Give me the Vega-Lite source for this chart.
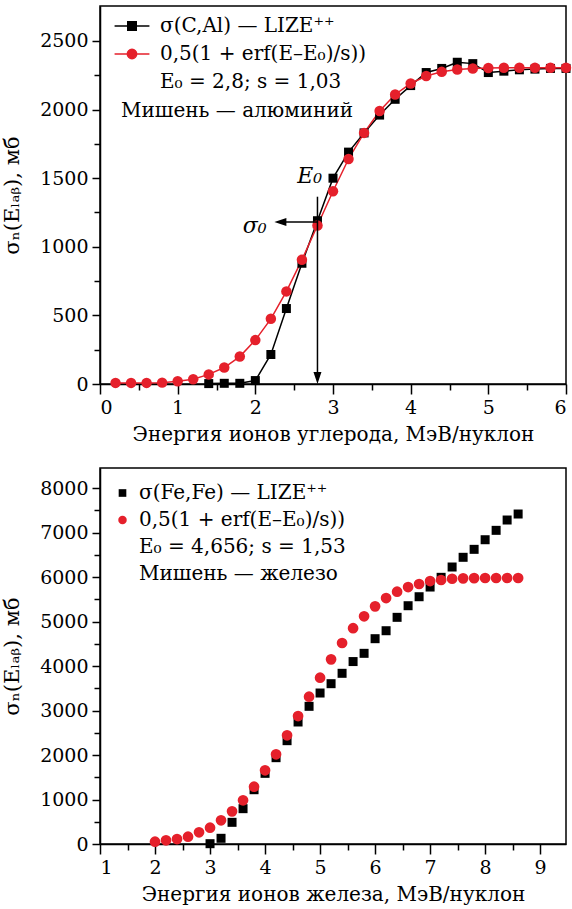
{
  "$schema": "https://vega.github.io/schema/vega-lite/v6.json",
  "padding": {"left": 0, "top": 5, "right": 5, "bottom": 5},
  "background": "white",
  "spacing": 22,
  "datasets": {
    "al": [
      {"E": 1.4, "sigma": 3, "series": "σ(C,Al) — LIZE⁺⁺"},
      {"E": 1.6, "sigma": 5, "series": "σ(C,Al) — LIZE⁺⁺"},
      {"E": 1.8, "sigma": 5, "series": "σ(C,Al) — LIZE⁺⁺"},
      {"E": 2.0, "sigma": 25, "series": "σ(C,Al) — LIZE⁺⁺"},
      {"E": 2.2, "sigma": 215, "series": "σ(C,Al) — LIZE⁺⁺"},
      {"E": 2.4, "sigma": 550, "series": "σ(C,Al) — LIZE⁺⁺"},
      {"E": 2.6, "sigma": 880, "series": "σ(C,Al) — LIZE⁺⁺"},
      {"E": 2.8, "sigma": 1190, "series": "σ(C,Al) — LIZE⁺⁺"},
      {"E": 3.0, "sigma": 1500, "series": "σ(C,Al) — LIZE⁺⁺"},
      {"E": 3.2, "sigma": 1690, "series": "σ(C,Al) — LIZE⁺⁺"},
      {"E": 3.4, "sigma": 1830, "series": "σ(C,Al) — LIZE⁺⁺"},
      {"E": 3.6, "sigma": 1960, "series": "σ(C,Al) — LIZE⁺⁺"},
      {"E": 3.8, "sigma": 2075, "series": "σ(C,Al) — LIZE⁺⁺"},
      {"E": 4.0, "sigma": 2175, "series": "σ(C,Al) — LIZE⁺⁺"},
      {"E": 4.2, "sigma": 2270, "series": "σ(C,Al) — LIZE⁺⁺"},
      {"E": 4.4, "sigma": 2300, "series": "σ(C,Al) — LIZE⁺⁺"},
      {"E": 4.6, "sigma": 2345, "series": "σ(C,Al) — LIZE⁺⁺"},
      {"E": 4.8, "sigma": 2335, "series": "σ(C,Al) — LIZE⁺⁺"},
      {"E": 5.0, "sigma": 2270, "series": "σ(C,Al) — LIZE⁺⁺"},
      {"E": 5.2, "sigma": 2280, "series": "σ(C,Al) — LIZE⁺⁺"},
      {"E": 5.4, "sigma": 2290, "series": "σ(C,Al) — LIZE⁺⁺"},
      {"E": 5.6, "sigma": 2295, "series": "σ(C,Al) — LIZE⁺⁺"},
      {"E": 5.8, "sigma": 2300, "series": "σ(C,Al) — LIZE⁺⁺"},
      {"E": 6.0, "sigma": 2300, "series": "σ(C,Al) — LIZE⁺⁺"},
      {"E": 0.2, "sigma": 8, "series": "0,5(1 + erf(E–E₀)/s))"},
      {"E": 0.4, "sigma": 8, "series": "0,5(1 + erf(E–E₀)/s))"},
      {"E": 0.6, "sigma": 8, "series": "0,5(1 + erf(E–E₀)/s))"},
      {"E": 0.8, "sigma": 10, "series": "0,5(1 + erf(E–E₀)/s))"},
      {"E": 1.0, "sigma": 20, "series": "0,5(1 + erf(E–E₀)/s))"},
      {"E": 1.2, "sigma": 35, "series": "0,5(1 + erf(E–E₀)/s))"},
      {"E": 1.4, "sigma": 70, "series": "0,5(1 + erf(E–E₀)/s))"},
      {"E": 1.6, "sigma": 120, "series": "0,5(1 + erf(E–E₀)/s))"},
      {"E": 1.8, "sigma": 200, "series": "0,5(1 + erf(E–E₀)/s))"},
      {"E": 2.0, "sigma": 320, "series": "0,5(1 + erf(E–E₀)/s))"},
      {"E": 2.2, "sigma": 475, "series": "0,5(1 + erf(E–E₀)/s))"},
      {"E": 2.4, "sigma": 675, "series": "0,5(1 + erf(E–E₀)/s))"},
      {"E": 2.6, "sigma": 905, "series": "0,5(1 + erf(E–E₀)/s))"},
      {"E": 2.8, "sigma": 1155, "series": "0,5(1 + erf(E–E₀)/s))"},
      {"E": 3.0, "sigma": 1405, "series": "0,5(1 + erf(E–E₀)/s))"},
      {"E": 3.2, "sigma": 1640, "series": "0,5(1 + erf(E–E₀)/s))"},
      {"E": 3.4, "sigma": 1830, "series": "0,5(1 + erf(E–E₀)/s))"},
      {"E": 3.6, "sigma": 1990, "series": "0,5(1 + erf(E–E₀)/s))"},
      {"E": 3.8, "sigma": 2110, "series": "0,5(1 + erf(E–E₀)/s))"},
      {"E": 4.0, "sigma": 2190, "series": "0,5(1 + erf(E–E₀)/s))"},
      {"E": 4.2, "sigma": 2245, "series": "0,5(1 + erf(E–E₀)/s))"},
      {"E": 4.4, "sigma": 2275, "series": "0,5(1 + erf(E–E₀)/s))"},
      {"E": 4.6, "sigma": 2292, "series": "0,5(1 + erf(E–E₀)/s))"},
      {"E": 4.8, "sigma": 2300, "series": "0,5(1 + erf(E–E₀)/s))"},
      {"E": 5.0, "sigma": 2303, "series": "0,5(1 + erf(E–E₀)/s))"},
      {"E": 5.2, "sigma": 2305, "series": "0,5(1 + erf(E–E₀)/s))"},
      {"E": 5.4, "sigma": 2305, "series": "0,5(1 + erf(E–E₀)/s))"},
      {"E": 5.6, "sigma": 2305, "series": "0,5(1 + erf(E–E₀)/s))"},
      {"E": 5.8, "sigma": 2305, "series": "0,5(1 + erf(E–E₀)/s))"},
      {"E": 6.0, "sigma": 2305, "series": "0,5(1 + erf(E–E₀)/s))"}
    ],
    "fe": [
      {"E": 3.0, "sigma": 7, "series": "σ(Fe,Fe) — LIZE⁺⁺"},
      {"E": 3.2, "sigma": 128, "series": "σ(Fe,Fe) — LIZE⁺⁺"},
      {"E": 3.4, "sigma": 487, "series": "σ(Fe,Fe) — LIZE⁺⁺"},
      {"E": 3.6, "sigma": 794, "series": "σ(Fe,Fe) — LIZE⁺⁺"},
      {"E": 3.8, "sigma": 1220, "series": "σ(Fe,Fe) — LIZE⁺⁺"},
      {"E": 4.0, "sigma": 1588, "series": "σ(Fe,Fe) — LIZE⁺⁺"},
      {"E": 4.2, "sigma": 1940, "series": "σ(Fe,Fe) — LIZE⁺⁺"},
      {"E": 4.4, "sigma": 2322, "series": "σ(Fe,Fe) — LIZE⁺⁺"},
      {"E": 4.6, "sigma": 2742, "series": "σ(Fe,Fe) — LIZE⁺⁺"},
      {"E": 4.8, "sigma": 3094, "series": "σ(Fe,Fe) — LIZE⁺⁺"},
      {"E": 5.0, "sigma": 3393, "series": "σ(Fe,Fe) — LIZE⁺⁺"},
      {"E": 5.2, "sigma": 3603, "series": "σ(Fe,Fe) — LIZE⁺⁺"},
      {"E": 5.4, "sigma": 3836, "series": "σ(Fe,Fe) — LIZE⁺⁺"},
      {"E": 5.6, "sigma": 4100, "series": "σ(Fe,Fe) — LIZE⁺⁺"},
      {"E": 5.8, "sigma": 4285, "series": "σ(Fe,Fe) — LIZE⁺⁺"},
      {"E": 6.0, "sigma": 4614, "series": "σ(Fe,Fe) — LIZE⁺⁺"},
      {"E": 6.2, "sigma": 4793, "series": "σ(Fe,Fe) — LIZE⁺⁺"},
      {"E": 6.4, "sigma": 5094, "series": "σ(Fe,Fe) — LIZE⁺⁺"},
      {"E": 6.6, "sigma": 5355, "series": "σ(Fe,Fe) — LIZE⁺⁺"},
      {"E": 6.8, "sigma": 5557, "series": "σ(Fe,Fe) — LIZE⁺⁺"},
      {"E": 7.0, "sigma": 5775, "series": "σ(Fe,Fe) — LIZE⁺⁺"},
      {"E": 7.2, "sigma": 5993, "series": "σ(Fe,Fe) — LIZE⁺⁺"},
      {"E": 7.4, "sigma": 6225, "series": "σ(Fe,Fe) — LIZE⁺⁺"},
      {"E": 7.6, "sigma": 6443, "series": "σ(Fe,Fe) — LIZE⁺⁺"},
      {"E": 7.8, "sigma": 6622, "series": "σ(Fe,Fe) — LIZE⁺⁺"},
      {"E": 8.0, "sigma": 6838, "series": "σ(Fe,Fe) — LIZE⁺⁺"},
      {"E": 8.2, "sigma": 7049, "series": "σ(Fe,Fe) — LIZE⁺⁺"},
      {"E": 8.4, "sigma": 7281, "series": "σ(Fe,Fe) — LIZE⁺⁺"},
      {"E": 8.6, "sigma": 7416, "series": "σ(Fe,Fe) — LIZE⁺⁺"},
      {"E": 2.0, "sigma": 52, "series": "0,5(1 + erf(E–E₀)/s))"},
      {"E": 2.2, "sigma": 83, "series": "0,5(1 + erf(E–E₀)/s))"},
      {"E": 2.4, "sigma": 112, "series": "0,5(1 + erf(E–E₀)/s))"},
      {"E": 2.6, "sigma": 164, "series": "0,5(1 + erf(E–E₀)/s))"},
      {"E": 2.8, "sigma": 263, "series": "0,5(1 + erf(E–E₀)/s))"},
      {"E": 3.0, "sigma": 366, "series": "0,5(1 + erf(E–E₀)/s))"},
      {"E": 3.2, "sigma": 532, "series": "0,5(1 + erf(E–E₀)/s))"},
      {"E": 3.4, "sigma": 734, "series": "0,5(1 + erf(E–E₀)/s))"},
      {"E": 3.6, "sigma": 982, "series": "0,5(1 + erf(E–E₀)/s))"},
      {"E": 3.8, "sigma": 1288, "series": "0,5(1 + erf(E–E₀)/s))"},
      {"E": 4.0, "sigma": 1656, "series": "0,5(1 + erf(E–E₀)/s))"},
      {"E": 4.2, "sigma": 2016, "series": "0,5(1 + erf(E–E₀)/s))"},
      {"E": 4.4, "sigma": 2443, "series": "0,5(1 + erf(E–E₀)/s))"},
      {"E": 4.6, "sigma": 2876, "series": "0,5(1 + erf(E–E₀)/s))"},
      {"E": 4.8, "sigma": 3310, "series": "0,5(1 + erf(E–E₀)/s))"},
      {"E": 5.0, "sigma": 3737, "series": "0,5(1 + erf(E–E₀)/s))"},
      {"E": 5.2, "sigma": 4150, "series": "0,5(1 + erf(E–E₀)/s))"},
      {"E": 5.4, "sigma": 4517, "series": "0,5(1 + erf(E–E₀)/s))"},
      {"E": 5.6, "sigma": 4850, "series": "0,5(1 + erf(E–E₀)/s))"},
      {"E": 5.8, "sigma": 5117, "series": "0,5(1 + erf(E–E₀)/s))"},
      {"E": 6.0, "sigma": 5341, "series": "0,5(1 + erf(E–E₀)/s))"},
      {"E": 6.2, "sigma": 5528, "series": "0,5(1 + erf(E–E₀)/s))"},
      {"E": 6.4, "sigma": 5670, "series": "0,5(1 + erf(E–E₀)/s))"},
      {"E": 6.6, "sigma": 5775, "series": "0,5(1 + erf(E–E₀)/s))"},
      {"E": 6.8, "sigma": 5843, "series": "0,5(1 + erf(E–E₀)/s))"},
      {"E": 7.0, "sigma": 5910, "series": "0,5(1 + erf(E–E₀)/s))"},
      {"E": 7.2, "sigma": 5933, "series": "0,5(1 + erf(E–E₀)/s))"},
      {"E": 7.4, "sigma": 5961, "series": "0,5(1 + erf(E–E₀)/s))"},
      {"E": 7.6, "sigma": 5970, "series": "0,5(1 + erf(E–E₀)/s))"},
      {"E": 7.8, "sigma": 5975, "series": "0,5(1 + erf(E–E₀)/s))"},
      {"E": 8.0, "sigma": 5978, "series": "0,5(1 + erf(E–E₀)/s))"},
      {"E": 8.2, "sigma": 5978, "series": "0,5(1 + erf(E–E₀)/s))"},
      {"E": 8.4, "sigma": 5978, "series": "0,5(1 + erf(E–E₀)/s))"},
      {"E": 8.6, "sigma": 5978, "series": "0,5(1 + erf(E–E₀)/s))"}
    ],
    "arrowLines": [
      {"E": 2.8, "sigma": 1365, "E2": 2.8, "sigma2": 60},
      {"E": 2.8, "sigma": 1181, "E2": 2.35, "sigma2": 1181}
    ],
    "arrowDown": [{"E": 2.8, "sigma": 0}],
    "arrowLeft": [{"E": 2.245, "sigma": 1181}],
    "notes": [
      {"E": 2.7, "sigma": 1516, "text": "E₀"},
      {"E": 1.99, "sigma": 1152, "text": "σ₀"}
    ]
  },
  "vconcat": [
    {
      "width": 466,
      "height": 378,
      "layer": [
        {
          "data": {"name": "al"},
          "encoding": {
            "x": {"field": "E", "type": "quantitative"},
            "y": {"field": "sigma", "type": "quantitative"},
            "color": {
              "field": "series",
              "type": "nominal",
              "scale": {
                "domain": ["σ(C,Al) — LIZE⁺⁺", "0,5(1 + erf(E–E₀)/s))", "E₀ = 2,8; s = 1,03", "Мишень — алюминий"],
                "range": ["black", "#e5202b", "transparent", "transparent"]
              },
              "legend": {
                "orient": "none",
                "legendX": 22,
                "legendY": 10,
                "title": null,
                "padding": 0,
                "labelFont": "DejaVu Serif",
                "labelFontSize": 20,
                "labelColor": "black",
                "labelLimit": 400,
                "symbolSize": 289,
                "labelOffset": 18,
                "rowPadding": 8,
                "encode": {
                  "symbols": {
                    "update": {
                      "size": {"value": 289},
                      "shape": {"signal": "datum.index === 0 ? 'M-2.05,0H2.05M-0.5,-0.5H0.5V0.5H-0.5Z' : datum.index === 1 ? 'M-2.05,0H2.05M0.55,0A0.55,0.55,0,1,1,-0.55,0A0.55,0.55,0,1,1,0.55,0Z' : 'M0,0'"},
                      "fill": {"signal": "datum.index === 0 ? 'black' : datum.index === 1 ? '#e5202b' : 'transparent'"},
                      "stroke": {"signal": "datum.index === 0 ? 'black' : datum.index === 1 ? '#e5202b' : 'transparent'"},
                      "strokeWidth": {"value": 1.5},
                      "opacity": {"value": 1}
                    }
                  },
                  "labels": {
                    "update": {
                      "dx": {"signal": "datum.index === 3 ? -39 : 0"},
                      "dy": {"signal": "datum.index === 3 ? 1 : 0"}
                    }
                  }
                }
              }
            }
          },
          "layer": [
            {"mark": {"type": "line", "strokeWidth": 1.5}},
            {
              "transform": [{"filter": "datum.series === 'σ(C,Al) — LIZE⁺⁺'"}],
              "mark": {"type": "point", "filled": true, "opacity": 1, "shape": "square", "size": 81}
            },
            {
              "transform": [{"filter": "datum.series !== 'σ(C,Al) — LIZE⁺⁺'"}],
              "mark": {"type": "point", "filled": true, "opacity": 1, "shape": "circle", "size": 110}
            }
          ]
        },
        {
          "data": {"name": "arrowLines"},
          "mark": {"type": "rule", "color": "black", "strokeWidth": 1.5},
          "encoding": {
            "x": {"field": "E", "type": "quantitative"},
            "y": {"field": "sigma", "type": "quantitative"},
            "x2": {"field": "E2"},
            "y2": {"field": "sigma2"}
          }
        },
        {
          "data": {"name": "arrowDown"},
          "mark": {"type": "point", "filled": true, "opacity": 1, "color": "black", "size": 100, "shape": "M0,0L-0.8,-2.4L0.8,-2.4Z"},
          "encoding": {
            "x": {"field": "E", "type": "quantitative"},
            "y": {"field": "sigma", "type": "quantitative"}
          }
        },
        {
          "data": {"name": "arrowLeft"},
          "mark": {"type": "point", "filled": true, "opacity": 1, "color": "black", "size": 100, "shape": "M0,0L2.4,-0.8L2.4,0.8Z"},
          "encoding": {
            "x": {"field": "E", "type": "quantitative"},
            "y": {"field": "sigma", "type": "quantitative"}
          }
        },
        {
          "data": {"name": "notes"},
          "mark": {"type": "text", "font": "DejaVu Serif", "fontSize": 22, "fontStyle": "italic", "color": "black"},
          "encoding": {
            "x": {"field": "E", "type": "quantitative"},
            "y": {"field": "sigma", "type": "quantitative"},
            "text": {"field": "text"}
          }
        }
      ],
      "encoding": {
        "x": {
          "field": "E",
          "type": "quantitative",
          "scale": {"domain": [0, 6], "nice": false, "zero": false},
          "axis": {
            "title": "Энергия ионов углерода, МэВ/нуклон",
            "values": [0, 0.5, 1, 1.5, 2, 2.5, 3, 3.5, 4, 4.5, 5, 5.5, 6],
            "labelExpr": "datum.value % 1 === 0 ? format(datum.value, 'd') : ''",
            "tickSize": {"condition": {"test": "datum.value % 1 === 0", "value": 10}, "value": 6}
          }
        },
        "y": {
          "field": "sigma",
          "type": "quantitative",
          "scale": {"domain": [0, 2755], "nice": false},
          "axis": {
            "title": "σₙ(Eₗₐᵦ), мб",
            "values": [0, 250, 500, 750, 1000, 1250, 1500, 1750, 2000, 2250, 2500],
            "labelExpr": "datum.value % 500 === 0 ? format(datum.value, 'd') : ''",
            "tickSize": {"condition": {"test": "datum.value % 500 === 0", "value": 8}, "value": 6}
          }
        }
      }
    },
    {
      "width": 466,
      "height": 376,
      "layer": [
        {
          "data": {"name": "fe"},
          "encoding": {
            "x": {"field": "E", "type": "quantitative"},
            "y": {"field": "sigma", "type": "quantitative"},
            "color": {
              "field": "series",
              "type": "nominal",
              "scale": {
                "domain": ["σ(Fe,Fe) — LIZE⁺⁺", "0,5(1 + erf(E–E₀)/s))", "E₀ = 4,656; s = 1,53", "Мишень — железо"],
                "range": ["black", "#e5202b", "transparent", "transparent"]
              },
              "legend": {
                "orient": "none",
                "legendX": 12.5,
                "legendY": 15,
                "title": null,
                "padding": 0,
                "labelFont": "DejaVu Serif",
                "labelFontSize": 20,
                "labelColor": "black",
                "labelLimit": 400,
                "symbolSize": 289,
                "labelOffset": 6.5,
                "rowPadding": 7,
                "encode": {
                  "symbols": {
                    "update": {
                      "size": {"value": 289},
                      "shape": {"signal": "datum.index === 0 ? 'M-0.45,-0.45H0.45V0.45H-0.45Z' : datum.index === 1 ? 'M0.5,0A0.5,0.5,0,1,1,-0.5,0A0.5,0.5,0,1,1,0.5,0Z' : 'M0,0'"},
                      "fill": {"signal": "datum.index === 0 ? 'black' : datum.index === 1 ? '#e5202b' : 'transparent'"},
                      "stroke": {"value": "transparent"},
                      "strokeWidth": {"value": 0},
                      "opacity": {"value": 1}
                    }
                  }
                }
              }
            }
          },
          "layer": [
            {"mark": {"type": "line", "strokeWidth": 1, "strokeOpacity": 0}},
            {
              "transform": [{"filter": "datum.series === 'σ(Fe,Fe) — LIZE⁺⁺'"}],
              "mark": {"type": "point", "filled": true, "opacity": 1, "shape": "square", "size": 81}
            },
            {
              "transform": [{"filter": "datum.series !== 'σ(Fe,Fe) — LIZE⁺⁺'"}],
              "mark": {"type": "point", "filled": true, "opacity": 1, "shape": "circle", "size": 115}
            }
          ]
        }
      ],
      "encoding": {
        "x": {
          "field": "E",
          "type": "quantitative",
          "scale": {"domain": [1, 9.47], "nice": false, "zero": false},
          "axis": {
            "title": "Энергия ионов железа, МэВ/нуклон",
            "values": [1, 1.5, 2, 2.5, 3, 3.5, 4, 4.5, 5, 5.5, 6, 6.5, 7, 7.5, 8, 8.5, 9],
            "labelExpr": "datum.value % 1 === 0 ? format(datum.value, 'd') : ''",
            "tickSize": {"condition": {"test": "datum.value % 1 === 0", "value": 10}, "value": 6}
          }
        },
        "y": {
          "field": "sigma",
          "type": "quantitative",
          "scale": {"domain": [0, 8450], "nice": false},
          "axis": {
            "title": "σₙ(Eₗₐᵦ), мб",
            "values": [0, 500, 1000, 1500, 2000, 2500, 3000, 3500, 4000, 4500, 5000, 5500, 6000, 6500, 7000, 7500, 8000],
            "labelExpr": "datum.value % 1000 === 0 ? format(datum.value, 'd') : ''",
            "tickSize": {"condition": {"test": "datum.value % 1000 === 0", "value": 8}, "value": 6}
          }
        }
      }
    }
  ],
  "resolve": {
    "scale": {"x": "independent", "y": "independent", "color": "independent"},
    "legend": {"color": "independent"}
  },
  "config": {
    "font": "DejaVu Serif",
    "view": {"stroke": "black", "strokeWidth": 1.5},
    "axis": {
      "grid": false,
      "domainColor": "black",
      "domainWidth": 1.5,
      "tickColor": "black",
      "tickWidth": 1.5,
      "labelFont": "DejaVu Serif",
      "labelFontSize": 19,
      "labelColor": "black",
      "labelPadding": 4,
      "titleFont": "DejaVu Serif",
      "titleFontSize": 20,
      "titleFontWeight": "normal",
      "titleColor": "black",
      "titlePadding": 7
    },
    "axisY": {"titlePadding": 17, "titleFontSize": 21}
  }
}
